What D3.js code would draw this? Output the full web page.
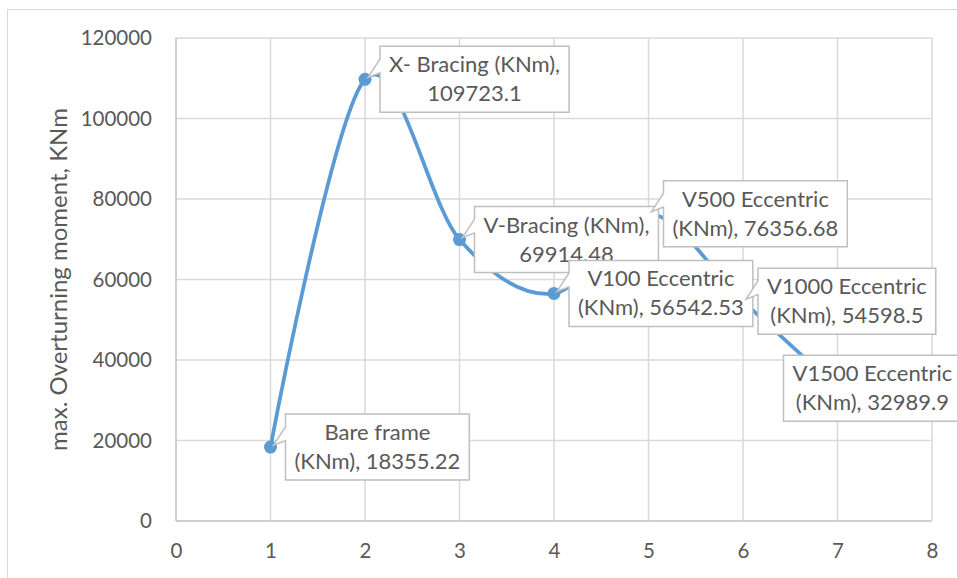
<!DOCTYPE html>
<html>
<head>
<meta charset="utf-8">
<script src="https://cdn.jsdelivr.net/npm/d3@7"></script>
<style>
  body { margin: 0; background: #fff; }
  svg text { font-family: Lato, "Open Sans", sans-serif; fill: #595959; }
</style>
</head>
<body>
<div class="root"></div>
<script>
// data
var frames = [1, 2, 3, 4, 5, 6, 7];
var names = ["Bare frame", "X- Bracing", "V-Bracing", "V100 Eccentric",
  "V500 Eccentric", "V1000 Eccentric", "V1500 Eccentric"];
var moments = [18355.22, 109723.1, 69914.48, 56542.53, 76356.68, 54598.5, 32989.9];
var xTicks = [0, 1, 2, 3, 4, 5, 6, 7, 8];
var yTicks = [0, 20000, 40000, 60000, 80000, 100000, 120000];
var yTitle = "max. Overturning moment, KNm";

// label layout: where the line breaks, and horizontal shift of the box
var labelBreak = ["name", "unit", "unit", "name", "name", "name", "name"];
var labelShift = [15, 15, 15, 15, 15, 15, -54];

var width = 957, height = 578;
var svg = d3.select(".root").append("svg")
  .attr("width", width)
  .attr("height", height);

// chart area border (cropped on right/bottom)
svg.append("rect")
  .attr("x", 7.5).attr("y", 9.5)
  .attr("width", 1000).attr("height", 700)
  .attr("fill", "#fff")
  .attr("stroke", "#d9d9d9");

var x = d3.scaleLinear().domain([0, 8]).range([176, 932]);
var y = d3.scaleLinear().domain([0, 120000]).range([521, 38]);

// gridlines
svg.append("g").selectAll("line")
  .data(yTicks)
  .enter().append("line")
  .attr("x1", x(0)).attr("x2", x(8))
  .attr("y1", function (d) { return y(d); })
  .attr("y2", function (d) { return y(d); })
  .attr("stroke", function (d) { return d === 0 ? "#bfbfbf" : "#d9d9d9"; })
  .attr("stroke-width", 1.5);
svg.append("g").selectAll("line")
  .data(xTicks)
  .enter().append("line")
  .attr("y1", y(0)).attr("y2", y(120000))
  .attr("x1", function (d) { return x(d); })
  .attr("x2", function (d) { return x(d); })
  .attr("stroke", function (d) { return d === 0 ? "#bfbfbf" : "#d9d9d9"; })
  .attr("stroke-width", 1.5);

// axes (labels only)
var yAxis = svg.append("g")
  .attr("transform", "translate(" + x(0) + ",0)")
  .call(d3.axisLeft(y).tickValues(yTicks).tickSize(0).tickPadding(24).tickFormat(d3.format("d")));
var xAxis = svg.append("g")
  .attr("transform", "translate(0," + y(0) + ")")
  .call(d3.axisBottom(x).tickValues(xTicks).tickSize(0).tickPadding(22).tickFormat(d3.format("d")));
[yAxis, xAxis].forEach(function (a) {
  a.select(".domain").remove();
  a.selectAll("text").attr("font-size", 20.5).attr("fill", "#595959")
    .style("font-family", "Lato, sans-serif");
});

svg.append("text")
  .attr("transform", "translate(67," + ((y(0) + y(120000)) / 2) + ") rotate(-90)")
  .attr("text-anchor", "middle")
  .attr("font-size", 24)
  .text(yTitle);

// series
var pts = frames.map(function (f, i) { return { x: f, y: moments[i], i: i }; });
var line = d3.line()
  .x(function (d) { return x(d.x); })
  .y(function (d) { return y(d.y); })
  .curve(d3.curveCardinal.tension(0));
svg.append("path")
  .datum(pts)
  .attr("fill", "none")
  .attr("stroke", "#5b9bd5")
  .attr("stroke-width", 3.75)
  .attr("stroke-linecap", "round")
  .attr("d", line);
svg.append("g").selectAll("circle")
  .data(pts)
  .enter().append("circle")
  .attr("cx", function (d) { return x(d.x); })
  .attr("cy", function (d) { return y(d.y); })
  .attr("r", 6.5)
  .attr("fill", "#5b9bd5");

// callout labels
var labels = svg.append("g");
pts.forEach(function (d) {
  var i = d.i;
  var px = x(d.x), py = y(d.y);
  var lines = labelBreak[i] === "unit"
    ? [names[i] + " (KNm),", String(moments[i])]
    : [names[i], "(KNm), " + moments[i]];
  var g = labels.append("g");
  var box = g.append("path");
  var t = g.append("text").attr("font-size", 22).attr("text-anchor", "middle");
  t.selectAll("tspan")
    .data(lines)
    .enter().append("tspan")
    .text(function (s) { return s; });
  var tw = 0;
  t.selectAll("tspan").each(function () { tw = Math.max(tw, this.getComputedTextLength()); });
  var bw = tw + 18, bh = 66;
  var bx = px + labelShift[i], by = py - bh / 2;
  t.selectAll("tspan")
    .attr("x", bx + bw / 2)
    .attr("y", function (s, k) { return py - 14 + k * 29 + 7; });
  var p = "M" + bx + "," + by + "H" + (bx + bw) + "V" + (by + bh) + "H" + bx;
  if (labelShift[i] > 0) {
    p += "V" + (by + bh * 0.4) + "L" + (px + 3) + "," + (py - 2) + "L" + bx + "," + (by + bh * 0.19);
  }
  p += "Z";
  box.attr("d", p)
    .attr("fill", "#fff")
    .attr("stroke", "#bfbfbf")
    .attr("stroke-width", 1.5);
});
</script>
</body>
</html>
